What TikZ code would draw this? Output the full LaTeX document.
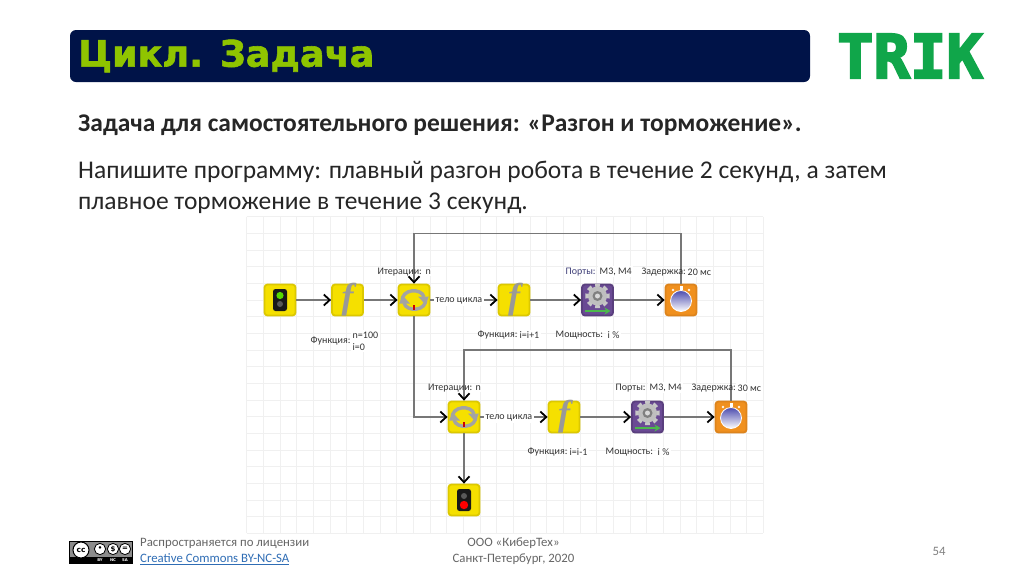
\documentclass[tikz,border=0pt]{standalone}
\usepackage{fontspec}
\setmainfont{Carlito}
\newfontfamily\titlefont[FakeBold=1.6]{DejaVu Sans Bold}
\newfontfamily\smallfont{DejaVu Sans}
\newfontfamily\logofont[FakeBold=3.5]{DejaVu Sans Mono Bold}
\newfontfamily\ffont{Liberation Serif Bold Italic}
\usetikzlibrary{arrows.meta,calc}
\definecolor{navy}{HTML}{001348}
\definecolor{lime}{HTML}{8FC400}
\definecolor{trikgreen}{HTML}{10A64A}
\definecolor{blockyellow}{HTML}{F5E000}
\definecolor{blockedge}{HTML}{DCC800}
\definecolor{blockpurple}{HTML}{6A4A94}
\definecolor{blockorange}{HTML}{F0901E}
\definecolor{wire}{HTML}{777777}
\definecolor{footgray}{HTML}{666666}
\definecolor{linkblue}{HTML}{2F6DB5}
\newcommand{\fs}[1]{\fontsize{#1}{#1}\selectfont}
\tikzset{
  x=1pt,y=-1pt,
  block/.style={minimum size=31pt,inner sep=0pt,rounded corners=3pt,line width=1.8pt},
  ybl/.style={block,fill=blockyellow,draw=blockedge},
  pbl/.style={block,fill=blockpurple,draw=blockpurple!85!black},
  obl/.style={block,fill=blockorange,draw=blockorange!92!black},
  conn/.style={draw=wire,line width=1.3pt,-{Straight Barb[color=black,length=6pt,width=11pt,line width=1.8pt]}},
  lab/.style={font=\fs{10}\color{black!80},inner sep=0.5pt,anchor=west,yshift=-0.8pt},
  val/.style={font=\fs{10}\color{black!80},inner sep=1.5pt,fill=white,anchor=west,align=left,yshift=-0.8pt},
  gridline/.style={draw=black!6,line width=0.6pt},
  body/.style={font=\fs{25.5},anchor=west,inner sep=0pt,text=black!85},
  foot/.style={font=\fs{12.8},text=footgray,inner sep=0pt},
}
\begin{document}
\begin{tikzpicture}
\useasboundingbox (0,0) rectangle (1024,576);
\fill[white] (0,0) rectangle (1024,576);
% title
\fill[navy,rounded corners=6pt] (70,30) rectangle (810,82);
\node[font=\titlefont\fs{36.5},text=lime,anchor=west,inner sep=0pt] (title) at (78,56) {Цикл. Задача};
\node[font=\logofont\fs{60.5},text=trikgreen,anchor=center,inner sep=0pt] (logo) at (910,56) {TRIK};
% text
\node[body,font=\bfseries\fs{25.45}] (t1) at (78,125.5) {Задача для самостоятельного решения: «Разгон и торможение».};
\node[body] (t2) at (78,172) {Напишите программу: плавный разгон робота в течение 2 секунд, а затем};
\node[body] (t3) at (78,203) {плавное торможение в течение 3 секунд.};
% grid
\foreach \i in {0,...,31} {\draw[gridline] ({246.6+\i*16.67},216.6) -- ({246.6+\i*16.67},533.3);}
\foreach \j in {0,...,19} {\draw[gridline] (246.6,{216.6+\j*16.67}) -- (763.4,{216.6+\j*16.67});}
% blocks
\node[ybl] (start) at (280,300) {};
\node[ybl] (f1) at (347.5,300) {};
\node[ybl] (loop1) at (414,300) {};
\node[ybl] (f2) at (514,300) {};
\node[pbl] (motor1) at (597.5,300) {};
\node[obl] (timer1) at (681,300) {};
\node[ybl] (loop2) at (464,417) {};
\node[ybl] (f3) at (564,417) {};
\node[pbl] (motor2) at (647.5,417) {};
\node[obl] (timer2) at (731,417) {};
\node[ybl] (stop) at (464,500) {};
% icons
\newcommand{\ficon}[1]{\node[font=\ffont\fs{36},text=black!40,inner sep=0pt] at (#1) {f};}
\newcommand{\loopicon}[1]{
  \begin{scope}[shift={(#1)}]
    \draw[black!36,line width=3.4pt] (-12,2) .. controls (-13,-12) and (8,-12) .. (10,-3);
    \draw[black!36,line width=3.4pt] (12,-2) .. controls (13,12) and (-8,12) .. (-10,3);
    \fill[black!36] (4,-3.5) -- (15,-3.5) -- (11,4) -- cycle;
    \fill[black!36] (-4,3.5) -- (-15,3.5) -- (-11,-4) -- cycle;
    \fill[red!80!black] (-0.8,5) rectangle (0.8,10);
  \end{scope}}
\newcommand{\motoricon}[1]{
  \begin{scope}[shift={(#1)}]
    \foreach \a in {0,45,...,315} {\fill[black!22] ($(0,-4)+(\a-12:12.5)$) -- ($(0,-4)+(\a+12:12.5)$) -- ($(0,-4)+(\a+14:8)$) -- ($(0,-4)+(\a-14:8)$) -- cycle;}
    \fill[black!25] (0,-4) circle (9.5pt);
    \fill[black!50] (0,-4) circle (5pt);
    \fill[black!15] (0,-4) circle (2.5pt);
    \draw[green!60!black!70!white,line width=2.2pt,-{Stealth[length=6pt,width=7pt]}] (-13,11) -- (13,11);
  \end{scope}}
\newcommand{\timericon}[1]{
  \begin{scope}[shift={(#1)}]
    \fill[white] (-1.5,-14) rectangle (1.5,-10);
    \fill[white,opacity=.9] (-8,-10) circle (1.3pt) (8,-10) circle (1.3pt);
    \shade[top color=blue!55!black!70,bottom color=white,draw=white,line width=0.8pt] (0,1) circle (10.5pt);
  \end{scope}}
\newcommand{\lighticon}[2]{
  \begin{scope}[shift={(#1)}]
    \fill[black!90,rounded corners=2.5pt] (-7,-11) rectangle (7,11);
    #2
  \end{scope}}
\lighticon{start}{\fill[green!60!yellow!85!black] (0,-4.5) circle (3.6pt); \fill[black!65] (0,4) circle (3pt);}
\lighticon{stop}{\fill[black!65] (0,-4) circle (3pt); \fill[red] (0,5) circle (4.2pt);}
\ficon{f1}\ficon{f2}\ficon{f3}
\loopicon{loop1}\loopicon{loop2}
\motoricon{motor1}\motoricon{motor2}
\timericon{timer1}\timericon{timer2}
% connectors
\coordinate (fb1) at (547,233.5);
\coordinate (fb2) at (597,350);
\draw[conn] (start) -- (f1);
\draw[conn] (f1) -- (loop1);
\draw[conn] (loop1) -- (f2);
\draw[conn] (f2) -- (motor1);
\draw[conn] (motor1) -- (timer1);
\draw[conn] (timer1.north) |- (fb1) -| (loop1.north);
\draw[conn] (loop1.south) |- (loop2.west);
\draw[conn] (loop2) -- (f3);
\draw[conn] (f3) -- (motor2);
\draw[conn] (motor2) -- (timer2);
\draw[conn] (timer2.north) |- (fb2) -| (loop2.north);
\draw[conn] (loop2) -- (stop);
% labels row 1
\node[lab] (l1) at (377,271) {Итерации:};
\node[val] (v1) at (424,271) {n};
\node[val] (b1) at (434,300) {тело цикла};
\node[lab] (l2) at (310,340) {Функция:};
\node[val] (v2) at (351,340) {n=100\\[2pt]i=0};
\node[lab] (l3) at (477,334) {Функция:};
\node[val] (v3) at (518,334) {i=i+1};
\node[lab] (l4) at (555,334) {Мощность:};
\node[val] (v4) at (606,334) {i \%};
\node[lab,text=blue!30!black!75] (l5) at (565,271) {Порты:};
\node[val] (v5) at (598,271) {М3, М4};
\node[lab] (l6) at (641,271) {Задержка:};
\node[val] (v6) at (686,271) {20 мс};
% labels row 2
\node[lab] (l7) at (427.5,387) {Итерации:};
\node[val] (v7) at (474,387) {n};
\node[val] (b2) at (484,417) {тело цикла};
\node[lab] (l8) at (527,451) {Функция:};
\node[val] (v8) at (568,451) {i=i-1};
\node[lab] (l9) at (605,451) {Мощность:};
\node[val] (v9) at (656,451) {i \%};
\node[lab] (l10) at (615,387) {Порты:};
\node[val] (v10) at (648,387) {М3, М4};
\node[lab] (l11) at (691,387) {Задержка:};
\node[val] (v11) at (736,387) {30 мс};
% footer
\fill[black!45] (69,541) rectangle (132,563);
\fill[black] (69,556.5) rectangle (132,563);
\draw[black,line width=0.8pt] (69,541) rectangle (132,563);
\fill[white,draw=black,line width=1pt] (81,550) circle (8pt);
\node[font=\smallfont\bfseries\fs{7.5},inner sep=0pt] (cc) at (81,550) {cc};
\foreach \x/\s in {100/\textbullet,113/\$,125/=} {\fill[white,draw=black,line width=0.8pt] (\x,549) circle (5.6pt); \node[font=\smallfont\bfseries\fs{7},inner sep=0pt] at (\x,549) {\s};}
\node[font=\smallfont\bfseries\fs{3.8},text=white,inner sep=0pt] (by) at (100,560) {BY};
\node[font=\smallfont\bfseries\fs{3.8},text=white,inner sep=0pt] (nc) at (113,560) {NC};
\node[font=\smallfont\bfseries\fs{3.8},text=white,inner sep=0pt] (sa) at (125,560) {SA};
\node[foot,anchor=west] (lic) at (140,543.5) {Распространяется по лицензии};
\node[foot,anchor=west,text=linkblue] (cc2) at (140,559) {\underline{Creative Commons BY-NC-SA}};
\node[foot] (org) at (513.5,543.5) {ООО «КиберТех»};
\node[foot] (city) at (513.5,559) {Санкт-Петербург, 2020};
\node[foot,text=black!50] (page) at (939,551.5) {54};
\end{tikzpicture}
\end{document}
